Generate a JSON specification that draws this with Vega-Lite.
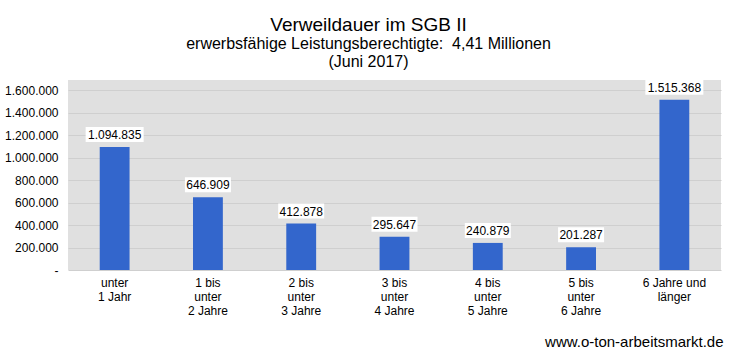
{
  "$schema": "https://vega.github.io/schema/vega-lite/v6.json",
  "width": 653,
  "height": 190,
  "autosize": "none",
  "padding": {"left": 68, "top": 80, "right": 15, "bottom": 90},
  "background": "white",
  "config": {
    "locale": {"number": {"decimal": ",", "thousands": ".", "grouping": [3], "currency": ["", " €"]}},
    "font": "Liberation Sans",
    "view": {"fill": "#E0E0E0", "stroke": null}
  },
  "title": {
    "text": "Verweildauer im SGB II",
    "subtitle": ["erwerbsfähige Leistungsberechtigte:\u00a0 4,41 Millionen", "(Juni 2017)"],
    "fontSize": 19,
    "fontWeight": "normal",
    "color": "#000000",
    "subtitleFontSize": 16,
    "subtitleColor": "#000000",
    "subtitleLineHeight": 18,
    "subtitlePadding": 1,
    "anchor": "middle",
    "dx": -26,
    "offset": 10
  },
  "data": {
    "values": [
      {"dauer": "unter\n1 Jahr", "value": 1094835},
      {"dauer": "1 bis\nunter\n2 Jahre", "value": 646909},
      {"dauer": "2 bis\nunter\n3 Jahre", "value": 412878},
      {"dauer": "3 bis\nunter\n4 Jahre", "value": 295647},
      {"dauer": "4 bis\nunter\n5 Jahre", "value": 240879},
      {"dauer": "5 bis\nunter\n6 Jahre", "value": 201287},
      {"dauer": "6 Jahre und\nlänger", "value": 1515368}
    ]
  },
  "encoding": {
    "x": {
      "field": "dauer",
      "type": "nominal",
      "sort": null,
      "scale": {"paddingInner": 0.68, "paddingOuter": 0.34},
      "axis": {
        "labelExpr": "split(datum.label, '\\n')",
        "labelAngle": 0,
        "labelFontSize": 12,
        "labelLineHeight": 14,
        "labelPadding": 7,
        "labelColor": "#000000",
        "ticks": false,
        "domain": false,
        "grid": false,
        "title": "www.o-ton-arbeitsmarkt.de",
        "titleFontSize": 15,
        "titleFontWeight": "normal",
        "titleColor": "#000000",
        "titleAnchor": "end",
        "titleAlign": "right",
        "titleBaseline": "alphabetic",
        "titleX": 655,
        "titleY": 76
      }
    },
    "y": {
      "field": "value",
      "type": "quantitative",
      "scale": {"domain": [0, 1690000], "nice": false},
      "axis": {
        "values": [0, 200000, 400000, 600000, 800000, 1000000, 1200000, 1400000, 1600000],
        "format": ",d",
        "labelExpr": "datum.value == 0 ? '-' : datum.label",
        "labelFontSize": 12,
        "labelPadding": 10,
        "labelColor": "#000000",
        "gridColor": "#CFCFCF",
        "domain": false,
        "ticks": false,
        "title": null
      }
    }
  },
  "layer": [
    {"mark": {"type": "bar", "color": "#3366CC"}},
    {
      "transform": [{"filter": "datum.value >= 1000000"}],
      "mark": {"type": "bar", "color": "white", "width": 58, "yOffset": -20, "y2Offset": -5},
      "encoding": {"y2": {"field": "value"}}
    },
    {
      "transform": [{"filter": "datum.value < 1000000"}],
      "mark": {"type": "bar", "color": "white", "width": 46, "yOffset": -20, "y2Offset": -5},
      "encoding": {"y2": {"field": "value"}}
    },
    {
      "mark": {"type": "text", "fontSize": 12, "color": "#000000", "baseline": "middle", "dy": -12},
      "encoding": {"text": {"field": "value", "type": "quantitative", "format": ",d"}}
    }
  ]
}
